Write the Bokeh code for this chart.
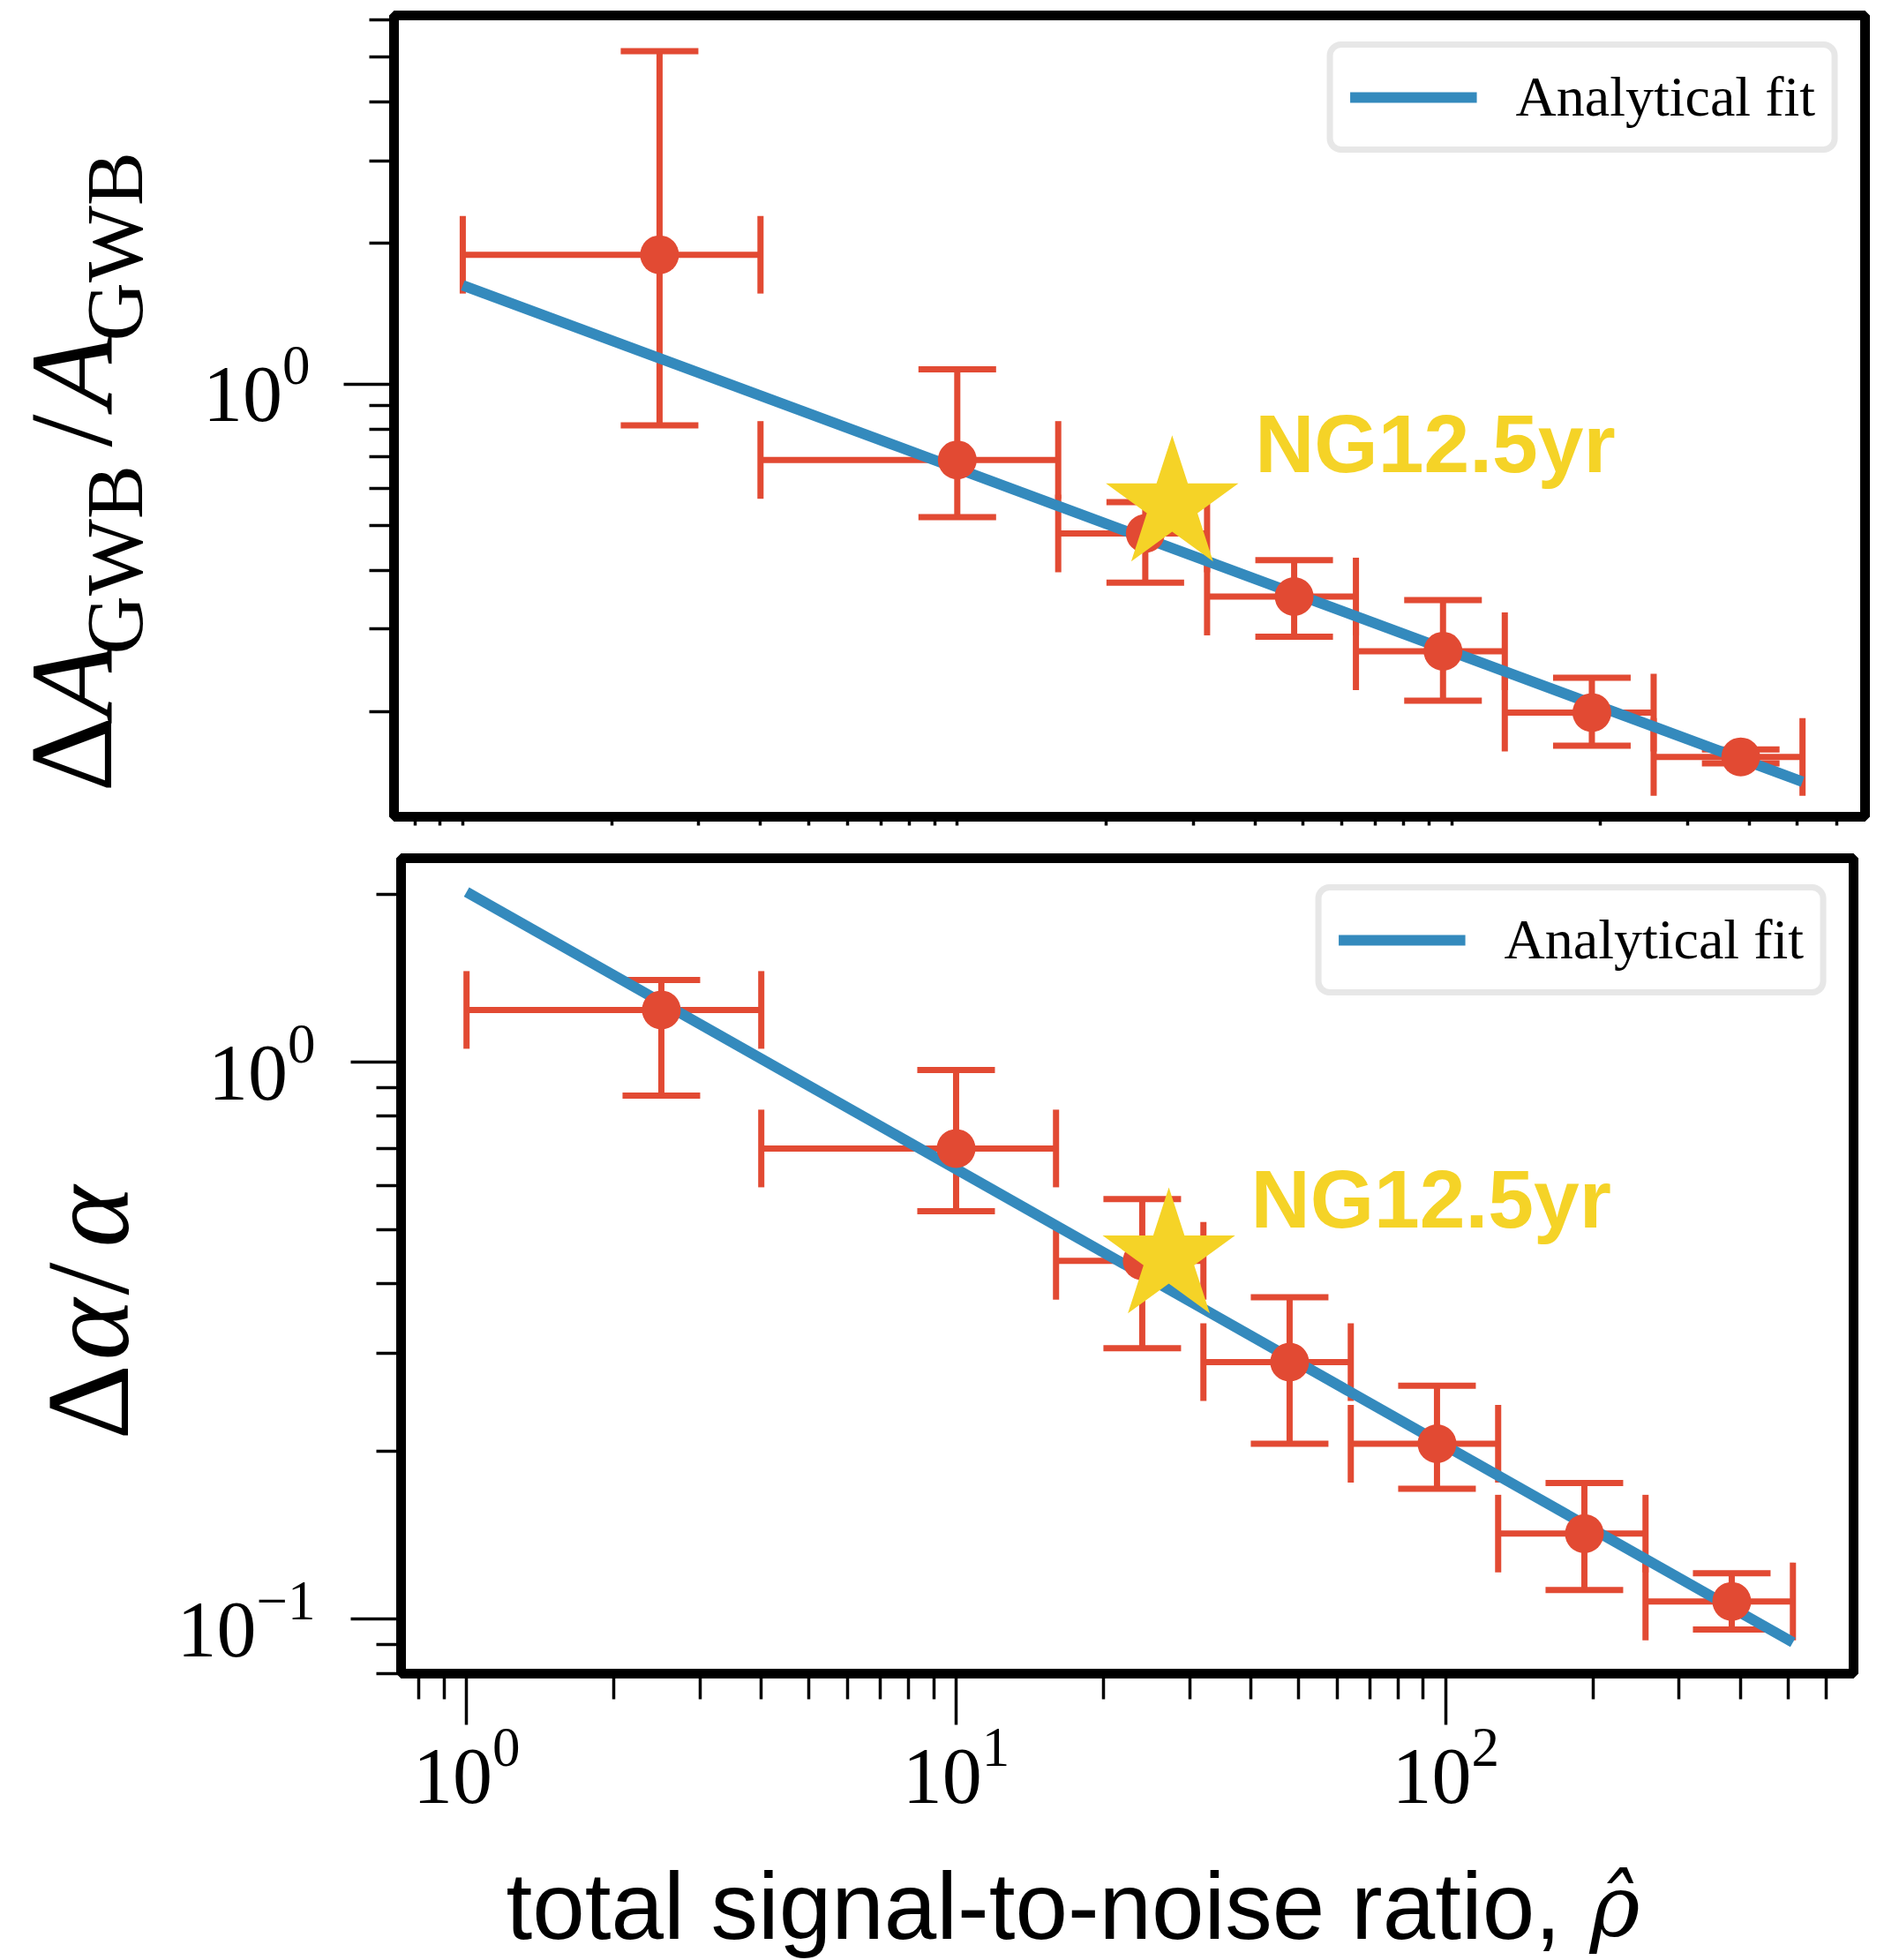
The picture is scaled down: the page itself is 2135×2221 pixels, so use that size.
import math
from bokeh.plotting import figure
from bokeh.models import (Range1d, FixedTicker, LogTickFormatter, Whisker, TeeHead,
                          ColumnDataSource, Label, Legend, LegendItem)
from bokeh.layouts import column, row
from bokeh.embed import file_html
from bokeh.resources import INLINE

# ---------------- data ----------------
snr_lo = [1, 4, 16, 32, 64, 128, 256]
snr_hi = [4, 16, 32, 64, 128, 256, 512]
snr = [2.5, 10, 24, 48, 96, 192, 384]

dA = [1.89, 0.689, 0.48, 0.352, 0.269, 0.199, 0.160]
dA_hi = [5.14, 1.076, 0.56, 0.421, 0.346, 0.236, 0.166]
dA_lo = [0.817, 0.52, 0.377, 0.289, 0.211, 0.169, 0.155]

dalpha = [1.241, 0.70, 0.44, 0.2895, 0.2066, 0.1425, 0.1077]
dalpha_hi = [1.404, 0.968, 0.568, 0.3785, 0.2626, 0.1757, 0.1210]
dalpha_lo = [0.871, 0.54, 0.3067, 0.2066, 0.1715, 0.1129, 0.0959]

fit_snr = [1, 512]
fit_dA = [1.626, 0.1416]
fit_dalpha = [2.02, 0.0909]

ng_snr = [27.2]
ng_dA = [0.552]
ng_dalpha = [0.447]
ng_text = "NG12.5yr"
ng_text_x = 40
ng_text_y_A = 0.645
ng_text_y_alpha = 0.502

legend_label = "Analytical fit"
x_label = "total signal-to-noise ratio,"
x_label_sym = "\u03c1\u0302"

x_major = [1, 10, 100]
x_minor = [0.8, 0.9, 2, 3, 4, 5, 6, 7, 8, 9, 20, 30, 40, 50, 60, 70, 80, 90,
           200, 300, 400, 500, 600]
yA_major = [1]
yA_minor = [0.2, 0.3, 0.4, 0.5, 0.6, 0.7, 0.8, 0.9, 2, 3, 4, 5, 6]
yal_major = [0.1, 1]
yal_minor = [0.08, 0.09, 0.2, 0.3, 0.4, 0.5, 0.6, 0.7, 0.8, 0.9, 2]

RED = "#E24A33"
BLUE = "#348ABD"
GOLD = "#F5D327"
SERIF = "Liberation Serif"
SANS = "Liberation Sans"
MID = 0.36   # distance from the middle of a text line to its baseline, in em

PAGE_W = 2135
ROW1_H = 948          # top panel canvas
ROW2_H = 1152         # bottom panel canvas
ROW3_H = 2221 - ROW1_H - ROW2_H   # strip for the x label
L1_W = 200            # strip for the top y label
L2_W = 180            # strip for the bottom y label
ERR_W = 7


def no_align(p):
    if "frame_align" in p.properties():
        p.frame_align = False


def style_axis(ax, major, minor, out_major, out_minor, label_size, standoff):
    ax.ticker = FixedTicker(ticks=major, minor_ticks=minor)
    ax.formatter = LogTickFormatter()
    ax.axis_line_color = None
    ax.major_tick_in = 0
    ax.minor_tick_in = 0
    ax.major_tick_out = out_major
    ax.minor_tick_out = out_minor
    ax.major_tick_line_width = 3.5
    ax.minor_tick_line_width = 3.5
    ax.major_tick_line_color = "black"
    ax.minor_tick_line_color = "black"
    ax.major_label_text_font = SERIF
    ax.major_label_text_font_size = label_size
    ax.major_label_text_color = "black"
    ax.major_label_standoff = standoff


def make_panel(width, height, borders, xr, yr, ymaj, ymin, vals, lo, hi, fit_y,
               star_y, ng_y, show_x_labels, ystandoff):
    left, right, top, bottom = borders
    p = figure(width=width, height=height, x_axis_type="log", y_axis_type="log",
               x_range=Range1d(*xr), y_range=Range1d(*yr),
               output_backend="svg", toolbar_location=None,
               min_border_left=left, min_border_right=right,
               min_border_top=top, min_border_bottom=bottom)
    no_align(p)
    p.grid.visible = False
    p.background_fill_color = "white"
    p.border_fill_color = "white"
    p.outline_line_color = "black"
    p.outline_line_width = 11
    p.outline_line_alpha = 1.0

    style_axis(p.yaxis[0], ymaj, ymin, 57, 28, "90px", ystandoff)
    if show_x_labels:
        style_axis(p.xaxis[0], x_major, x_minor, 58, 29, "90px", 4)
    else:
        style_axis(p.xaxis[0], x_major, x_minor, 10, 10, "0px", 0)
        p.xaxis[0].major_label_overrides = {1: "", 10: "", 100: ""}

    src = ColumnDataSource(dict(x=snr, y=vals, ylo=lo, yhi=hi,
                                xlo=snr_lo, xhi=snr_hi))

    def head():
        return TeeHead(size=88, line_color=RED, line_width=ERR_W)

    wy = Whisker(source=src, base="x", upper="yhi", lower="ylo",
                 dimension="height", line_color=RED, line_width=ERR_W,
                 upper_head=head(), lower_head=head())
    wx = Whisker(source=src, base="y", upper="xhi", lower="xlo",
                 dimension="width", line_color=RED, line_width=ERR_W,
                 upper_head=head(), lower_head=head())
    p.add_layout(wy)
    p.add_layout(wx)

    r_fit = p.line(fit_snr, fit_y, line_color=BLUE, line_width=12)
    p.scatter("x", "y", source=src, size=44, fill_color=RED, line_color=None)
    p.scatter(ng_snr, star_y, marker="star", size=158,
              fill_color=GOLD, line_color=None)

    p.add_layout(Label(x=ng_text_x, y=ng_y, text=ng_text, text_font=SANS,
                       text_font_style="bold", text_font_size="93px",
                       text_color=GOLD, text_baseline="middle",
                       text_align="left", y_offset=MID * 93))

    leg = Legend(items=[LegendItem(label=legend_label, renderers=[r_fit])],
                 location="top_right", margin=30, padding=19,
                 glyph_width=144, glyph_height=62, label_standoff=44,
                 label_text_font=SERIF, label_text_font_size="64px",
                 label_text_color="black",
                 border_line_color="#d0d0d0", border_line_width=7,
                 background_fill_color="white", background_fill_alpha=1.0)
    if "border_radius" in Legend.properties():
        leg.border_radius = 16
    p.add_layout(leg)
    return p


def text_strip(w, h):
    f = figure(width=w, height=h, x_range=Range1d(0, w), y_range=Range1d(0, h),
               output_backend="svg", toolbar_location=None, min_border=0,
               x_axis_location=None, y_axis_location=None)
    no_align(f)
    f.grid.visible = False
    f.outline_line_color = None
    f.background_fill_color = "white"
    f.border_fill_color = "white"
    return f


def put(strip, ox, oy, h, px, py, text, size, style="normal", font=SERIF,
        angle=0.0):
    """px, py: page position of the start of the baseline."""
    if angle:
        ax, ay = px - MID * size, py
    else:
        ax, ay = px, py - MID * size
    strip.add_layout(Label(x=ax - ox, y=h - (ay - oy), text=text,
                           text_font=font, text_font_size="%dpx" % size,
                           text_font_style=style, text_color="black",
                           text_baseline="middle", text_align="left",
                           angle=angle))


# top panel frame: page x 446..2113, y 17..925
p1 = make_panel(PAGE_W - L1_W, ROW1_H, (446 - L1_W, 22, 17, 23),
                (0.726, 685), (0.1192, 6.13), yA_major, yA_minor,
                dA, dA_lo, dA_hi, fit_dA, ng_dA, ng_text_y_A, False, 38)
# bottom panel frame: page x 454..2100, y 972..1896
p2 = make_panel(PAGE_W - L2_W, ROW2_H, (454 - L2_W, 35, 972 - ROW1_H,
                                        ROW1_H + ROW2_H - 1896),
                (0.735, 681), (0.0799, 2.323), yal_major, yal_minor,
                dalpha, dalpha_lo, dalpha_hi, fit_dalpha, ng_dalpha,
                ng_text_y_alpha, True, 40)

ROT = math.pi / 2
s1 = text_strip(L1_W, ROW1_H)
for txt, px, py, size, style in [
        ("\u0394", 128, 897, 133, "normal"),
        ("A", 128, 812, 133, "italic"),
        ("GWB", 163, 741, 92, "normal"),
        ("/", 128, 506, 133, "normal"),
        ("A", 128, 462, 133, "italic"),
        ("GWB", 163, 386, 92, "normal")]:
    put(s1, 0, 0, ROW1_H, px, py, txt, size, style, angle=ROT)

s2 = text_strip(L2_W, ROW2_H)
for txt, px, py, size, style in [
        ("\u0394", 147, 1631, 133, "normal"),
        ("\u03b1", 147, 1541, 133, "italic"),
        ("/", 147, 1467, 133, "normal"),
        ("\u03b1", 147, 1413, 133, "italic")]:
    put(s2, 0, ROW1_H, ROW2_H, px, py, txt, size, style, angle=ROT)

s3 = text_strip(PAGE_W, ROW3_H)
oy3 = ROW1_H + ROW2_H
put(s3, 0, oy3, ROW3_H, 573, 2198, x_label, 107, "normal", font=SANS)
put(s3, 0, oy3, ROW3_H, 1801, 2195, x_label_sym, 97, "italic",
    font="DejaVu Serif")

layout = column(row(s1, p1, spacing=0), row(s2, p2, spacing=0), s3, spacing=0)
open("out.html", "w").write(file_html(layout, INLINE))
